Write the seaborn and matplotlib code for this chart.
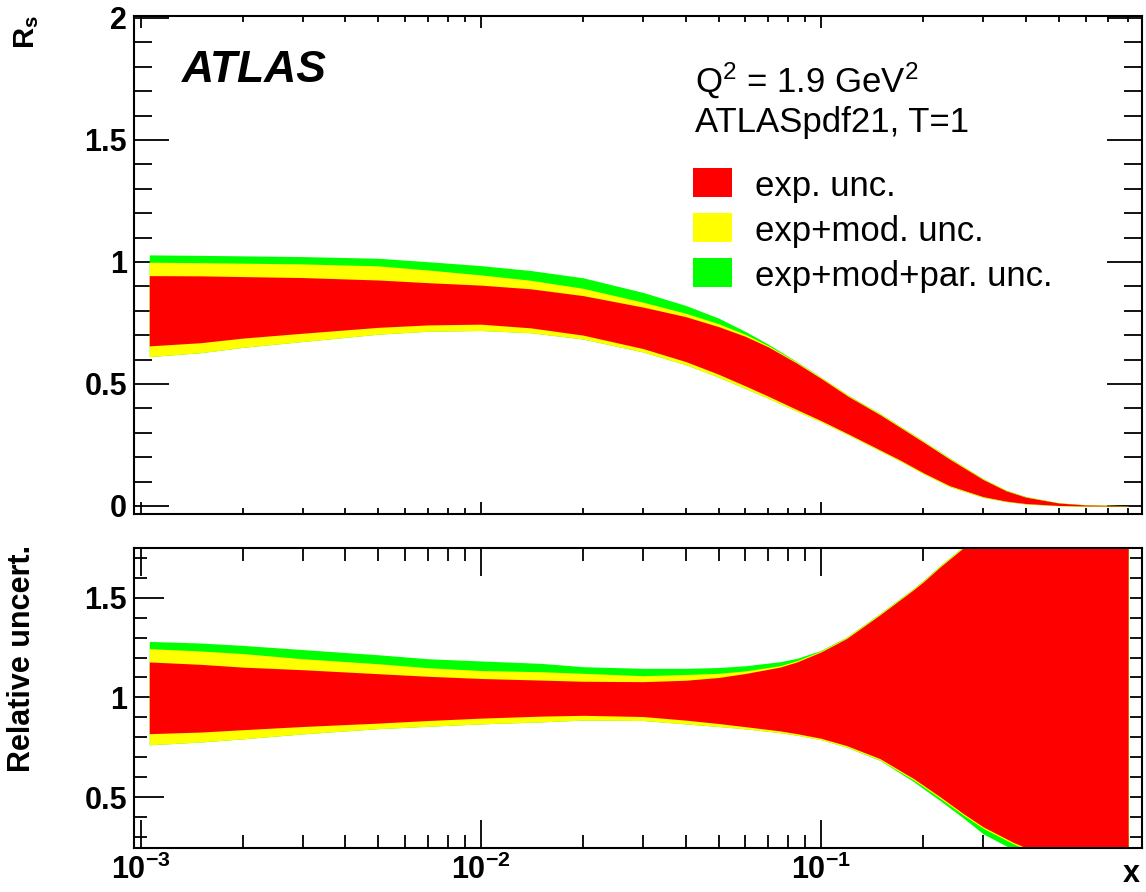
import numpy as np
import matplotlib
matplotlib.use("Agg")
import matplotlib.pyplot as plt
import seaborn as sns
from matplotlib.patches import Rectangle
from matplotlib.ticker import LogLocator, MultipleLocator, NullFormatter

# ---------------- data ----------------
# upper panel: R_s bands
x_top = [0.00106, 0.0015, 0.002, 0.003, 0.005, 0.007, 0.01, 0.014, 0.02, 0.03,
         0.04, 0.05, 0.06, 0.07, 0.085, 0.1, 0.12, 0.15, 0.171, 0.2,
         0.239, 0.3, 0.35, 0.4, 0.5, 0.6, 0.8]
top_exp_hi = [0.944, 0.943, 0.940, 0.936, 0.926, 0.915, 0.905, 0.890, 0.862, 0.815,
              0.776, 0.735, 0.695, 0.652, 0.585, 0.523, 0.450, 0.372, 0.322, 0.262,
              0.192, 0.108, 0.062, 0.036, 0.012, 0.004, 0.001]
top_exp_lo = [0.656, 0.669, 0.688, 0.708, 0.732, 0.742, 0.745, 0.730, 0.700, 0.645,
              0.592, 0.540, 0.492, 0.450, 0.395, 0.350, 0.296, 0.228, 0.188, 0.136,
              0.083, 0.038, 0.020, 0.010, 0.002, 0.000, 0.000]
top_mod_hi = [0.999, 0.997, 0.995, 0.992, 0.984, 0.967, 0.947, 0.925, 0.892, 0.835,
              0.790, 0.747, 0.703, 0.657, 0.589, 0.527, 0.454, 0.376, 0.326, 0.266,
              0.196, 0.111, 0.064, 0.038, 0.013, 0.005, 0.001]
top_mod_lo = [0.612, 0.628, 0.650, 0.674, 0.704, 0.716, 0.719, 0.710, 0.684, 0.631,
              0.579, 0.528, 0.481, 0.441, 0.388, 0.345, 0.292, 0.224, 0.184, 0.132,
              0.079, 0.035, 0.018, 0.008, 0.001, 0.000, 0.000]
top_par_hi = [1.029, 1.027, 1.025, 1.022, 1.015, 1.001, 0.985, 0.965, 0.935, 0.875,
              0.822, 0.770, 0.715, 0.663, 0.591, 0.528, 0.455, 0.377, 0.327, 0.267,
              0.197, 0.112, 0.065, 0.039, 0.013, 0.005, 0.001]
top_par_lo = top_mod_lo

# lower panel: relative uncertainty bands
x_rel = [0.00106, 0.0015, 0.002, 0.003, 0.005, 0.007, 0.01, 0.015, 0.02, 0.03,
         0.04, 0.05, 0.06, 0.0757, 0.085, 0.1, 0.119, 0.149, 0.187, 0.2,
         0.224, 0.262, 0.3, 0.368, 0.41, 0.5, 0.7, 0.8]
rel_exp_hi = [1.178, 1.166, 1.152, 1.139, 1.119, 1.106, 1.095, 1.087, 1.081, 1.079,
              1.086, 1.100, 1.120, 1.152, 1.178, 1.228, 1.296, 1.414, 1.540, 1.580,
              1.655, 1.750, 1.850, 2.050, 2.200, 2.600, 3.500, 4.000]
rel_mod_hi = [1.245, 1.233, 1.220, 1.194, 1.169, 1.149, 1.135, 1.129, 1.121, 1.109,
              1.115, 1.121, 1.133, 1.159, 1.184, 1.233, 1.301, 1.419, 1.545, 1.585,
              1.660, 1.755, 1.855, 2.055, 2.205, 2.605, 3.505, 4.005]
rel_par_hi = [1.281, 1.273, 1.261, 1.240, 1.214, 1.194, 1.183, 1.171, 1.154, 1.146,
              1.146, 1.150, 1.159, 1.179, 1.196, 1.236, 1.303, 1.421, 1.547, 1.587,
              1.662, 1.757, 1.857, 2.057, 2.207, 2.607, 3.507, 4.007]
rel_exp_lo = [0.818, 0.826, 0.838, 0.854, 0.871, 0.884, 0.896, 0.906, 0.910, 0.904,
              0.886, 0.869, 0.853, 0.832, 0.818, 0.795, 0.758, 0.693, 0.593, 0.559,
              0.501, 0.417, 0.350, 0.272, 0.238, 0.170, 0.060, 0.020]
rel_mod_lo = [0.762, 0.776, 0.792, 0.817, 0.843, 0.855, 0.867, 0.877, 0.886, 0.884,
              0.867, 0.854, 0.842, 0.823, 0.810, 0.788, 0.751, 0.686, 0.586, 0.552,
              0.494, 0.410, 0.343, 0.265, 0.231, 0.163, 0.053, 0.013]
rel_par_lo = [0.762, 0.776, 0.792, 0.817, 0.843, 0.855, 0.867, 0.877, 0.886, 0.884,
              0.867, 0.854, 0.842, 0.823, 0.810, 0.788, 0.750, 0.684, 0.578, 0.542,
              0.482, 0.395, 0.315, 0.235, 0.205, 0.140, 0.040, 0.005]

band_colors = ["#00FF00", "#FFFF00", "#FF0000"]
legend_labels = ["exp. unc.", "exp+mod. unc.", "exp+mod+par. unc."]
legend_colors = ["#FF0000", "#FFFF00", "#00FF00"]

top_yticks = [0, 0.5, 1, 1.5, 2]
top_ylabels = ["0", "0.5", "1", "1.5", "2"]
rel_yticks = [0.5, 1, 1.5]
rel_ylabels = ["0.5", "1", "1.5"]
x_ticks = [1e-3, 1e-2, 1e-1]
x_labels = [r"$\mathbf{10^{-3}}$", r"$\mathbf{10^{-2}}$", r"$\mathbf{10^{-1}}$"]

# ---------------- style ----------------
sns.set_theme(style="white")
plt.rcParams['font.family'] = ['Liberation Sans', 'DejaVu Sans']
plt.rcParams['mathtext.fontset'] = 'custom'
plt.rcParams['mathtext.rm'] = 'Liberation Sans'
plt.rcParams['mathtext.bf'] = 'Liberation Sans:bold'
plt.rcParams['mathtext.it'] = 'Liberation Sans:italic'
plt.rcParams['mathtext.sf'] = 'Liberation Sans'

W, H = 1146, 892
fig = plt.figure(figsize=(W / 100, H / 100), dpi=100)
fig.patch.set_facecolor("white")

L, R = 134, 1141.7
ax1 = fig.add_axes([L / W, (H - 514) / H, (R - L) / W, (514 - 16) / H])
ax2 = fig.add_axes([L / W, (H - 848) / H, (R - L) / W, (848 - 548) / H])

# bands
ax1.fill_between(x_top, top_par_lo, top_par_hi, color=band_colors[0], lw=0)
ax1.fill_between(x_top, top_mod_lo, top_mod_hi, color=band_colors[1], lw=0)
ax1.fill_between(x_top, top_exp_lo, top_exp_hi, color=band_colors[2], lw=0)

ax2.fill_between(x_rel, rel_par_lo, rel_par_hi, color=band_colors[0], lw=0)
ax2.fill_between(x_rel, rel_mod_lo, rel_mod_hi, color=band_colors[1], lw=0)
ax2.fill_between(x_rel, rel_exp_lo, rel_exp_hi, color=band_colors[2], lw=0)

for ax in (ax1, ax2):
    ax.set_facecolor("white")
    ax.set_xscale("log")
    ax.set_xlim(0.000956, 0.877)
    ax.xaxis.set_major_locator(LogLocator(base=10, numticks=10))
    ax.xaxis.set_minor_locator(LogLocator(base=10, subs=np.arange(2, 10), numticks=20))
    for s in ax.spines.values():
        s.set_color("black")
        s.set_linewidth(1.5)
    ax.grid(False)

# upper panel
ax1.set_ylim(-0.033, 2.008)
ax1.set_yticks(top_yticks)
ax1.set_yticklabels(top_ylabels, fontsize=22, fontweight="bold")
ax1.yaxis.set_minor_locator(MultipleLocator(0.1))
ax1.xaxis.set_major_formatter(NullFormatter())
ax1.xaxis.set_minor_formatter(NullFormatter())
ax1.tick_params(axis="both", which="both", direction="in", top=True, bottom=True,
                left=True, right=True, width=1.3, color="black", labelcolor="black")
ax1.tick_params(axis="y", which="major", length=25, pad=5)
ax1.tick_params(axis="y", which="minor", length=12.7)
ax1.tick_params(axis="x", which="major", length=8.6)
ax1.tick_params(axis="x", which="minor", length=4.3)

# lower panel
ax2.set_ylim(0.244, 1.75)
ax2.set_yticks(rel_yticks)
ax2.set_yticklabels(rel_ylabels, fontsize=22, fontweight="bold")
ax2.yaxis.set_minor_locator(MultipleLocator(0.1))
ax2.set_xticks(x_ticks)
ax2.set_xticklabels(x_labels, fontsize=22)
ax2.xaxis.set_minor_formatter(NullFormatter())

ax2r = ax2.twinx()
ax2r.set_ylim(0.244, 1.75)
ax2r.yaxis.set_major_locator(MultipleLocator(0.5))
ax2r.yaxis.set_minor_locator(MultipleLocator(0.1))
ax2r.tick_params(axis="y", which="both", direction="in", left=False, right=True,
                 labelleft=False, labelright=False, length=8.6, width=1.3, color="black")
for s in ax2r.spines.values():
    s.set_visible(False)

ax2.tick_params(axis="both", which="both", direction="in", top=True, bottom=True,
                width=1.3, color="black", labelcolor="black")
ax2.tick_params(axis="y", which="both", left=True, right=False, labelleft=True)
ax2.tick_params(axis="y", which="major", length=21.6, pad=5)
ax2.tick_params(axis="y", which="minor", length=9.4)
ax2.tick_params(axis="x", which="major", length=20, pad=5)
ax2.tick_params(axis="x", which="minor", length=9.4)

# ---------------- texts ----------------
fig.text(182 / W, 1 - 82 / H, "ATLAS", fontsize=32, fontweight="bold", style="italic",
         ha="left", va="baseline", color="black")
fig.text(695 / W, 1 - 93 / H, r"Q$^{2}$ = 1.9 GeV$^{2}$", fontsize=25,
         ha="left", va="baseline", color="black")
fig.text(695 / W, 1 - 132 / H, "ATLASpdf21, T=1", fontsize=25,
         ha="left", va="baseline", color="black")
for i, (lab, col) in enumerate(zip(legend_labels, legend_colors)):
    bottom = 197 + 45 * i
    fig.add_artist(Rectangle((693 / W, 1 - bottom / H), 39 / W, 29 / H,
                             transform=fig.transFigure, facecolor=col, edgecolor="none"))
    fig.text(755 / W, 1 - (bottom - 1) / H, lab, fontsize=25, ha="left", va="baseline",
             color="black")

fig.text(27 / W, 1 - 15 / H, r"$\mathbf{R_{s}}$", fontsize=21, rotation=90,
         ha="center", va="top", color="black")
fig.text(22.5 / W, 1 - 545 / H, "Relative uncert.", fontsize=22, fontweight="bold",
         rotation=90, ha="center", va="top", color="black")
fig.text(1140 / W, 1 - 882 / H, "x", fontsize=22, fontweight="bold",
         ha="right", va="baseline", color="black")

fig.savefig("out.png", dpi=100, facecolor="white")
